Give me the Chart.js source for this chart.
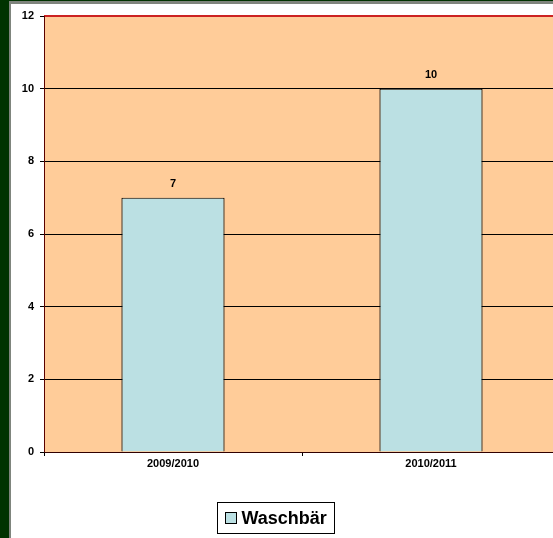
<!DOCTYPE html>
<html>
<head>
<meta charset="utf-8">
<script src="https://cdn.jsdelivr.net/npm/chart.js@4/dist/chart.umd.min.js"></script>
<style>
  html, body { margin: 0; padding: 0; width: 553px; height: 538px; overflow: hidden; background: #ffffff; }
  #wrap { position: absolute; left: 0; top: 0; width: 553px; height: 538px; overflow: hidden; }
  #leftDark { position: absolute; left: 0; top: 0; width: 9px; height: 538px; background: #003300; }
  #leftGrey { position: absolute; left: 9px; top: 0; width: 2px; height: 538px; background: #7f857d; }
  #topDark { position: absolute; left: 0; top: 0; width: 553px; height: 1px; background: #003300; }
  #topGrey { position: absolute; left: 9px; top: 1px; width: 544px; height: 3px; background: #7f857d; }
  #box { position: absolute; left: 0; top: 0; width: 572px; height: 538px; }
</style>
</head>
<body>
<div id="wrap">
  <div id="leftDark"></div>
  <div id="leftGrey"></div>
  <div id="topDark"></div>
  <div id="topGrey"></div>
  <div id="box"><canvas id="c" width="572" height="538"></canvas></div>
</div>
<script>
const categories = ["2009/2010", "2010/2011"];
const seriesName = "Waschbär";
const values = [7, 10];
const yTicks = [0, 2, 4, 6, 8, 10, 12];

const FONT = "'Liberation Sans', Arial, sans-serif";

const plotBg = {
  id: 'plotBg',
  beforeDraw(chart) {
    const { ctx, chartArea: a } = chart;
    ctx.save();
    ctx.fillStyle = '#ffcc99';
    ctx.fillRect(a.left, a.top, a.right - a.left, a.bottom - a.top);
    ctx.restore();
  },
  afterDraw(chart) {
    const { ctx, chartArea: a } = chart;
    ctx.save();
    // top red border
    ctx.strokeStyle = '#cc2222';
    ctx.lineWidth = 2;
    ctx.beginPath();
    ctx.moveTo(a.left, a.top);
    ctx.lineTo(a.right, a.top);
    ctx.stroke();
    // left axis line
    ctx.strokeStyle = '#5a0000';
    ctx.lineWidth = 1;
    ctx.beginPath();
    ctx.moveTo(a.left + 0.5, a.top);
    ctx.lineTo(a.left + 0.5, a.bottom);
    ctx.stroke();
    // bottom axis line
    ctx.strokeStyle = '#300000';
    ctx.beginPath();
    ctx.moveTo(a.left, a.bottom + 0.5);
    ctx.lineTo(a.right, a.bottom + 0.5);
    ctx.stroke();

    // custom legend
    const label = chart.data.datasets[0].label;
    ctx.font = 'bold 18px ' + FONT;
    const tw = ctx.measureText(label).width;
    const sw = 11, gap = 5, padL = 8, padR = 8;
    const bw = Math.round(padL + sw + gap + tw + padR);
    const bh = 31;
    const cx = 275;
    const bx = Math.round(cx - bw / 2) + 0.5;
    const by = 502.5;
    ctx.fillStyle = '#ffffff';
    ctx.fillRect(bx, by, bw, bh);
    ctx.strokeStyle = '#000000';
    ctx.lineWidth = 1;
    ctx.strokeRect(bx, by, bw, bh);
    ctx.fillStyle = chart.data.datasets[0].backgroundColor;
    const sx = bx + padL, sy = by + 10;
    ctx.fillRect(sx, sy, sw, sw);
    ctx.strokeRect(sx, sy, sw, sw);
    ctx.fillStyle = '#000000';
    ctx.textBaseline = 'middle';
    ctx.textAlign = 'left';
    ctx.fillText(label, sx + sw + gap, by + bh / 2 + 1);
    ctx.restore();
  }
};

const valueLabels = {
  id: 'valueLabels',
  afterDatasetsDraw(chart) {
    const { ctx } = chart;
    const meta = chart.getDatasetMeta(0);
    ctx.save();
    ctx.font = 'bold 11px ' + FONT;
    ctx.fillStyle = '#000000';
    ctx.textAlign = 'center';
    ctx.textBaseline = 'middle';
    meta.data.forEach((bar, i) => {
      ctx.fillText(String(chart.data.datasets[0].data[i]), bar.x, bar.y - 14);
    });
    ctx.restore();
  }
};

new Chart(document.getElementById('c'), {
  type: 'bar',
  data: {
    labels: categories,
    datasets: [{
      label: seriesName,
      data: values,
      backgroundColor: '#bbe0e3',
      borderColor: '#000000',
      borderWidth: 1.2,
      barPercentage: 0.4,
      categoryPercentage: 1.0
    }]
  },
  options: {
    responsive: false,
    animation: false,
    layout: { padding: { left: 0, top: 16, right: 12, bottom: 46 } },
    plugins: {
      legend: { display: false },
      tooltip: { enabled: false }
    },
    scales: {
      x: {
        offset: true,
        afterFit(s) { s.height = 40; },
        grid: { drawOnChartArea: false, drawTicks: true, tickLength: 4, color: '#000000', offset: true },
        border: { display: false },
        ticks: { color: '#000000', font: { family: FONT, size: 11, weight: 'bold' }, padding: 1, maxRotation: 0 }
      },
      y: {
        min: yTicks[0],
        max: yTicks[yTicks.length - 1],
        afterFit(s) { s.width = 44; },
        afterBuildTicks(s) { s.ticks = yTicks.map(v => ({ value: v })); },
        grid: { color: '#000000', lineWidth: 1, drawTicks: true, tickLength: 4 },
        border: { display: false },
        ticks: { color: '#000000', font: { family: FONT, size: 11, weight: 'bold' }, padding: 6 }
      }
    }
  },
  plugins: [plotBg, valueLabels]
});
</script>
</body>
</html>
